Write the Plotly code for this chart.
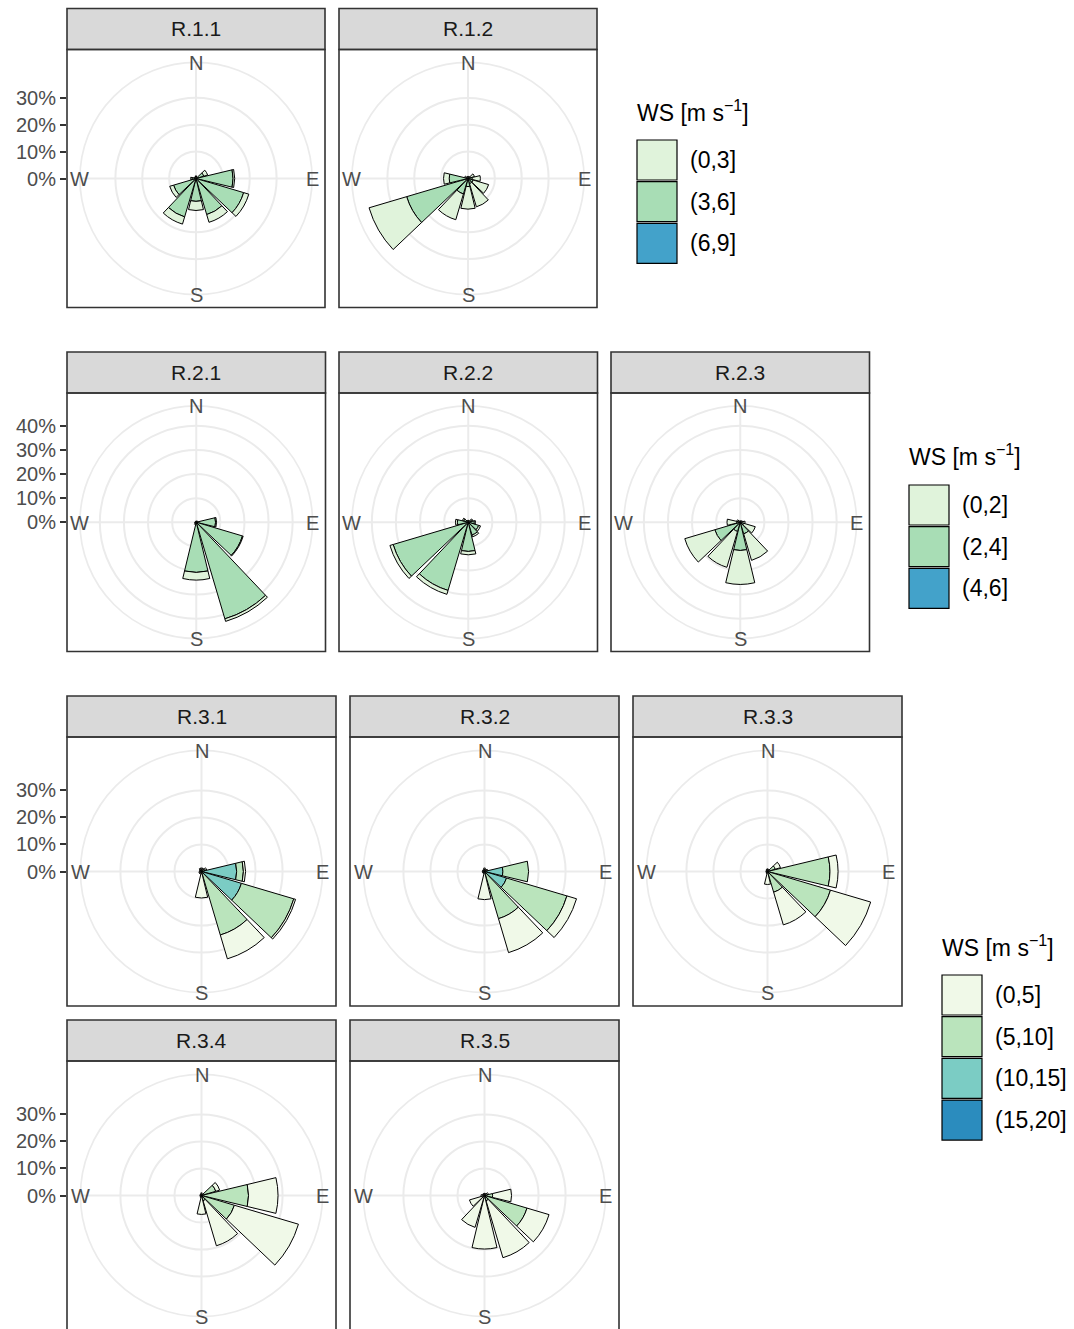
import math
import plotly.graph_objects as go

W, H = 1074, 1329
FONT = "Liberation Sans, Arial, Helvetica, sans-serif"

# ---------------- data ----------------
directions = [0, 30, 60, 90, 120, 150, 180, 210, 240, 270, 300, 330]

g1_classes = ["(0,3]", "(3,6]", "(6,9]"]
g2_classes = ["(0,2]", "(2,4]", "(4,6]"]
g3_classes = ["(0,5]", "(5,10]", "(10,15]", "(15,20]"]

g12_colors = ["#E0F3DB", "#A8DDB5", "#43A2CA"]
g3_colors = ["#F0F9E8", "#BAE4BC", "#7BCCC4", "#2B8CBE"]

compass_angles = [0, 90, 180, 270]
compass_labels = ["N", "E", "S", "W"]

# Group 1 (percent frequency per direction bin)
R11_a = [0.5, 0.3, 1.5, 0.6, 2.0, 3.0, 3.4, 2.8, 1.5, 0.5, 0.3, 0.3]   # (0,3]
R11_b = [0.5, 0.3, 3.0, 13.8, 18.5, 14.0, 8.5, 14.9, 8.7, 1.5, 0.5, 0.3]  # (3,6]
R11_c = [0] * 12                                                        # (6,9]

R12_a = [0.5, 0.5, 1.5, 3.0, 6.0, 9.0, 8.4, 10.0, 14.6, 2.1, 0.8, 0.4]
R12_b = [0.3, 0.3, 1.0, 1.6, 2.0, 2.0, 3.0, 6.0, 23.8, 7.0, 0.5, 0.3]
R12_c = [0] * 12

# Group 2
R21_a = [0.2, 0.2, 0.2, 0.4, 0.3, 1.1, 3.2, 0.3, 0.2, 0.2, 0.2, 0.2]   # (0,2]
R21_b = [0.3, 0.3, 0.5, 8.0, 20.0, 41.8, 20.8, 0.8, 0.5, 0.3, 0.3, 0.3]  # (2,4]
R21_c = [0] * 12                                                        # (4,6]

R22_a = [0.3, 0.3, 0.5, 0.5, 0.8, 0.8, 1.4, 1.7, 1.4, 0.8, 0.5, 0.3]
R22_b = [0.5, 0.5, 1.5, 2.5, 4.5, 5.5, 12.1, 29.5, 32.5, 4.5, 2.0, 0.5]
R22_c = [0] * 12

R23_a = [0.3, 0.3, 0.5, 1.5, 5.0, 11.5, 14.1, 15.5, 13.0, 4.0, 1.0, 0.3]
R23_b = [0.3, 0.3, 0.5, 0.5, 1.5, 5.0, 11.7, 4.0, 11.0, 1.5, 0.5, 0.3]
R23_c = [0] * 12

# Group 3
R31_a = [0.5, 0.5, 0.5, 0.8, 0.7, 9.2, 9.0, 0.5, 0.5, 0.5, 0.5, 0.5]   # (0,5]
R31_b = [0.5, 0.5, 1.0, 2.5, 20.2, 24.0, 0.8, 0.5, 0.5, 0.3, 0.3, 0.5]  # (5,10]
R31_c = [0.3, 0.3, 0.5, 13.0, 15.4, 0.5, 0, 0, 0, 0, 0, 0.3]           # (10,15]
R31_d = [0] * 12                                                        # (15,20]

R32_a = [0.5, 0.5, 0.5, 0, 3.7, 13.1, 10.0, 0.5, 0.5, 0.5, 0.5, 0.5]
R32_b = [0.5, 0.3, 0.5, 9.5, 23.3, 17.5, 0.4, 0.3, 0.3, 0.3, 0.3, 0.3]
R32_c = [0.3, 0, 0.3, 6.8, 8.5, 0.7, 0, 0, 0, 0, 0, 0]
R32_d = [0] * 12

R33_a = [0.5, 0.5, 2.0, 3.0, 15.5, 12.6, 4.8, 0.5, 0.3, 0.3, 0.3, 0.5]
R33_b = [0.5, 0.3, 3.0, 23.1, 24.3, 8.0, 0, 0.3, 0.3, 0.3, 0.3, 0.3]
R33_c = [0] * 12
R33_d = [0] * 12

R34_a = [0.5, 0.3, 1.5, 10.9, 24.7, 17.4, 7.0, 0.5, 0.3, 0.3, 0.3, 0.3]
R34_b = [0.5, 0.3, 5.5, 17.4, 12.7, 2.0, 0, 0.3, 0.3, 0.3, 0.3, 0.3]
R34_c = [0] * 12
R34_d = [0] * 12

R35_a = [0.5, 0.5, 1.0, 7.0, 8.5, 22.0, 19.5, 12.0, 5.5, 1.0, 0.5, 0.5]
R35_b = [0.3, 0.3, 0.5, 3.0, 16.4, 2.0, 0.3, 0.3, 0.3, 0.3, 0.3, 0.3]
R35_c = [0] * 12
R35_d = [0] * 12

g1_breaks = [0, 10, 20, 30]
g2_breaks = [0, 10, 20, 30, 40]
g3_breaks = [0, 10, 20, 30]

# ---------------- structure ----------------
panel_data = {
    "R.1.1": [R11_a, R11_b, R11_c], "R.1.2": [R12_a, R12_b, R12_c],
    "R.2.1": [R21_a, R21_b, R21_c], "R.2.2": [R22_a, R22_b, R22_c], "R.2.3": [R23_a, R23_b, R23_c],
    "R.3.1": [R31_a, R31_b, R31_c, R31_d], "R.3.2": [R32_a, R32_b, R32_c, R32_d],
    "R.3.3": [R33_a, R33_b, R33_c, R33_d], "R.3.4": [R34_a, R34_b, R34_c, R34_d],
    "R.3.5": [R35_a, R35_b, R35_c, R35_d],
}
groups = {
    1: dict(classes=g1_classes, colors=g12_colors, breaks=g1_breaks, panels=["R.1.1", "R.1.2"]),
    2: dict(classes=g2_classes, colors=g12_colors, breaks=g2_breaks, panels=["R.2.1", "R.2.2", "R.2.3"]),
    3: dict(classes=g3_classes, colors=g3_colors, breaks=g3_breaks,
            panels=["R.3.1", "R.3.2", "R.3.3", "R.3.4", "R.3.5"]),
}
for g in groups.values():
    g["max"] = max(sum(col) for p in g["panels"] for col in zip(*panel_data[p]))

# layout positions (pixels): name, group, x0, y0 (panel top), size, strip top
panel_specs = [
    ("R.1.1", 1, 67, 49.5, 258, 8.5), ("R.1.2", 1, 339, 49.5, 258, 8.5),
    ("R.2.1", 2, 67, 393, 258.5, 352), ("R.2.2", 2, 339, 393, 258.5, 352), ("R.2.3", 2, 611, 393, 258.5, 352),
    ("R.3.1", 3, 67, 737, 269, 696), ("R.3.2", 3, 350, 737, 269, 696), ("R.3.3", 3, 633, 737, 269, 696),
    ("R.3.4", 3, 67, 1061, 269, 1020), ("R.3.5", 3, 350, 1061, 269, 1020),
]
row_axes = [(1, 67, 49.5, 258), (2, 67, 393, 258.5), (3, 67, 737, 269), (3, 67, 1061, 269)]
legend_specs = [(1, 637, 111, 140), (2, 909, 455, 485), (3, 942, 946, 975)]

GRID = "#EBEBEB"
BORDER = "#333333"
fig = go.Figure()
layout = {}
shapes = []
annotations = []


def px(x):
    return x / W


def py(y):
    return 1 - y / H


for i, (name, grp, x0, y0, S, st) in enumerate(panel_specs, start=1):
    pid = "polar" if i == 1 else f"polar{i}"
    g = groups[grp]
    cx, cy = x0 + S / 2, y0 + S / 2
    rad = 0.45 * S
    rmax = g["max"] * 0.45 / 0.4
    series = panel_data[name]
    for k in reversed(range(len(g["classes"]))):
        vals = series[k]
        if not any(v > 0 for v in vals):
            continue
        fig.add_trace(go.Barpolar(
            r=[v if v > 0 else None for v in vals], theta=directions, width=27,
            marker=dict(color=g["colors"][k], line=dict(color="black", width=1.0)),
            subplot=pid, showlegend=False, hoverinfo="skip", name=g["classes"][k]))
    layout[pid] = dict(
        domain=dict(x=[px(cx - rad), px(cx + rad)], y=[py(cy + rad), py(cy - rad)]),
        bgcolor="white", barmode="stack", bargap=0, hole=0,
        radialaxis=dict(range=[0, rmax], tickvals=[b for b in g["breaks"] if b > 0],
                        showticklabels=False, ticks="", showline=False,
                        gridcolor=GRID, gridwidth=1.7, layer="below traces"),
        angularaxis=dict(direction="clockwise", rotation=90, tickvals=compass_angles,
                         showticklabels=False, ticks="", showline=True, linecolor=GRID,
                         linewidth=1.7, gridcolor=GRID, gridwidth=1.7, layer="below traces"),
    )
    # compass letters centred on the outer circle
    for a, lab in zip(compass_angles, compass_labels):
        lx = cx + rad * math.sin(math.radians(a))
        ly = cy - rad * math.cos(math.radians(a)) + 0.5
        annotations.append(dict(text=lab, x=px(lx), y=py(ly), xref="paper", yref="paper",
                                xanchor="center", yanchor="middle", showarrow=False,
                                font=dict(family=FONT, size=20, color="#4D4D4D")))
    # strip
    shapes.append(dict(type="rect", xref="paper", yref="paper", x0=px(x0), x1=px(x0 + S),
                       y0=py(y0), y1=py(st), fillcolor="#D9D9D9",
                       line=dict(color=BORDER, width=1.6), layer="above"))
    annotations.append(dict(text=name, x=px(x0 + S / 2), y=py((st + y0) / 2 - 0.5), xref="paper", yref="paper",
                            xanchor="center", yanchor="middle", showarrow=False,
                            font=dict(family=FONT, size=21, color="#1A1A1A")))
    # panel border
    shapes.append(dict(type="rect", xref="paper", yref="paper", x0=px(x0), x1=px(x0 + S),
                       y0=py(y0 + S), y1=py(y0), fillcolor="rgba(0,0,0,0)",
                       line=dict(color=BORDER, width=1.6), layer="above"))

# radial tick labels on the left of each row, through cartesian y axes
for j, (grp, x0, y0, S) in enumerate(row_axes, start=1):
    g = groups[grp]
    M = g["max"]
    ppu = 0.4 * S / M
    cy = y0 + S / 2
    ybot = min(y0 + S, H)
    top_v = (cy - y0) / ppu
    bot_v = (cy - ybot) / ppu
    xk = "xaxis" if j == 1 else f"xaxis{j}"
    yk = "yaxis" if j == 1 else f"yaxis{j}"
    xr = "x" if j == 1 else f"x{j}"
    yr = "y" if j == 1 else f"y{j}"
    fig.add_trace(go.Scatter(x=[0], y=[0], mode="markers", marker=dict(opacity=0),
                             xaxis=xr, yaxis=yr, showlegend=False, hoverinfo="skip"))
    layout[xk] = dict(domain=[px(x0), px(x0 + S)], anchor=yr, visible=False, range=[-1, 1], fixedrange=True)
    layout[yk] = dict(domain=[py(ybot), py(y0)], anchor=xr, range=[bot_v, top_v],
                      tickvals=g["breaks"], ticktext=[f"{b}%" for b in g["breaks"]],
                      ticks="outside", ticklen=6, tickwidth=1.6, tickcolor=BORDER,
                      showline=False, showgrid=False, zeroline=False, automargin=False,
                      tickfont=dict(family=FONT, size=20, color="#4D4D4D"), fixedrange=True)

# legends drawn as keys
PITCH = 41.7
for grp, lx, ty, by in legend_specs:
    g = groups[grp]
    annotations.append(dict(text="WS [m s<sup>\u22121</sup>]", x=px(lx - 2), y=py(ty), xref="paper", yref="paper",
                            xanchor="left", yanchor="middle", showarrow=False,
                            font=dict(family=FONT, size=23, color="black")))
    for k, (cl, col) in enumerate(zip(g["classes"], g["colors"])):
        top = by + k * PITCH
        shapes.append(dict(type="rect", xref="paper", yref="paper", x0=px(lx), x1=px(lx + 40),
                           y0=py(top + 40), y1=py(top), fillcolor=col,
                           line=dict(color="black", width=1.2), layer="above"))
        annotations.append(dict(text=cl, x=px(lx + 51), y=py(top + 20), xref="paper", yref="paper",
                                xanchor="left", yanchor="middle", showarrow=False,
                                font=dict(family=FONT, size=23, color="black")))

fig.update_layout(
    width=W, height=H, margin=dict(l=0, r=0, t=0, b=0, pad=0),
    paper_bgcolor="white", plot_bgcolor="rgba(0,0,0,0)", template="none",
    showlegend=False, shapes=shapes, annotations=annotations,
    font=dict(family=FONT), **layout)

fig.write_html("out.html")
